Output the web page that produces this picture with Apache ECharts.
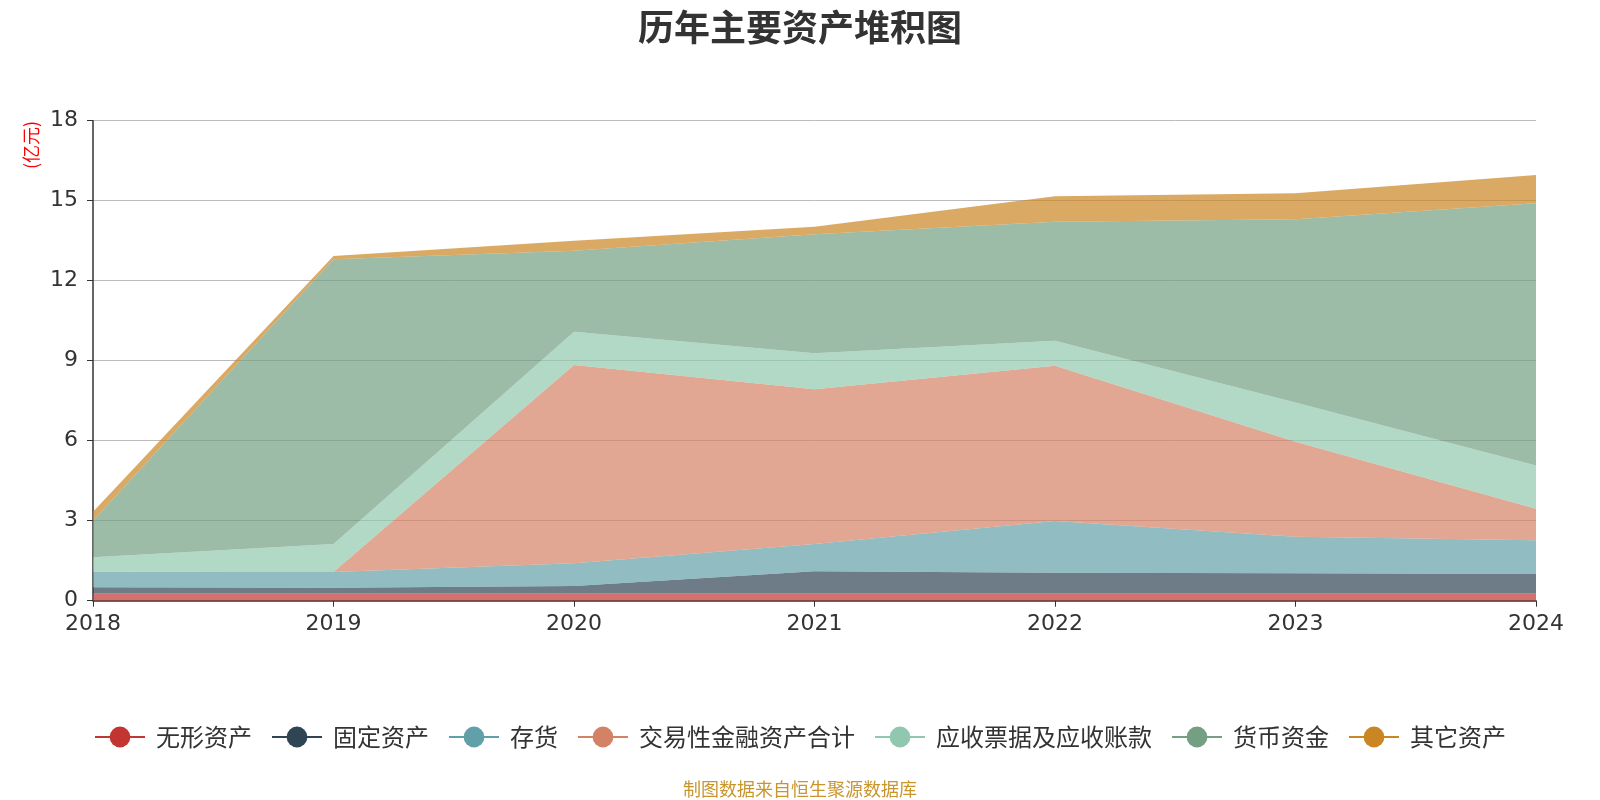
<!DOCTYPE html>
<html>
<head>
<meta charset="utf-8">
<script src="https://cdn.jsdelivr.net/npm/echarts@6/dist/echarts.min.js"></script>
<style>
html,body{margin:0;padding:0;background:#fff;}
#main{width:1600px;height:800px;}
</style>
</head>
<body>
<div id="main"></div>
<script>
var years = ['2018','2019','2020','2021','2022','2023','2024'];
var seriesNames = ['无形资产','固定资产','存货','交易性金融资产合计','应收票据及应收账款','货币资金','其它资产'];
var intangible = [0.27, 0.27, 0.27, 0.27, 0.27, 0.27, 0.27];
var fixedAssets = [0.23, 0.22, 0.28, 0.83, 0.78, 0.76, 0.73];
var inventory = [0.59, 0.59, 0.85, 1.03, 1.94, 1.37, 1.27];
var tradingFin = [0, 0, 7.44, 5.80, 5.82, 3.56, 1.18];
var receivables = [0.54, 1.05, 1.25, 1.35, 0.94, 1.47, 1.62];
var cash = [1.37, 10.67, 3.03, 4.46, 4.46, 6.87, 9.83];
var others = [0.34, 0.13, 0.38, 0.28, 0.96, 0.98, 1.06];
var yTicks = [0, 3, 6, 9, 12, 15, 18];

var colors = ['#c23531','#2f4554','#61a0a8','#d48265','#91c7ae','#749f83','#ca8622'];
var dataList = [intangible, fixedAssets, inventory, tradingFin, receivables, cash, others];

var chart = echarts.init(document.getElementById('main'));
var series = seriesNames.map(function(n, i){
  return {
    name: n,
    type: 'line',
    stack: 'total',
    data: dataList[i],
    symbol: 'circle',
    symbolSize: 20,
    showSymbol: false,
    lineStyle: {width: 0},
    areaStyle: {opacity: 0.7},
    itemStyle: {color: colors[i]}
  };
});

chart.setOption({
  animation: false,
  color: colors,
  title: {
    text: '历年主要资产堆积图',
    left: 'center',
    top: 4,
    textStyle: {fontSize: 36, fontWeight: 'bold', color: '#333', fontFamily: 'Noto Sans CJK SC'}
  },
  grid: {left: 93, right: 64, top: 120.7, bottom: 199.3, containLabel: false},
  legend: {
    bottom: 46,
    left: 'center',
    itemWidth: 50,
    itemHeight: 26,
    itemGap: 19,
    lineStyle: {width: 2},
    textStyle: {fontSize: 24, color: '#333', fontFamily: 'Noto Sans CJK SC', padding: [0, 0, 0, 6]},
    data: seriesNames
  },
  graphic: [
    {
      type: 'text',
      x: 31, y: 145,
      rotation: Math.PI / 2,
      style: {text: '(亿元)', fill: '#ff0000', font: '18px "Noto Sans CJK SC"', textAlign: 'center', textVerticalAlign: 'middle'}
    },
    {
      type: 'text',
      left: 'center',
      bottom: 2,
      style: {text: '制图数据来自恒生聚源数据库', fill: '#c8962d', font: '18px "Noto Sans CJK SC"'}
    }
  ],
  xAxis: {
    type: 'category',
    boundaryGap: false,
    data: years,
    axisLine: {lineStyle: {color: '#333', width: 1.5}},
    axisTick: {show: true, length: 6, lineStyle: {color: '#333'}},
    axisLabel: {fontSize: 22, color: '#333', margin: 13, fontFamily: 'DejaVu Sans'}
  },
  yAxis: {
    type: 'value',
    min: yTicks[0],
    max: yTicks[yTicks.length - 1],
    interval: 3,
    axisLine: {show: true, lineStyle: {color: '#333', width: 1.5}},
    axisTick: {show: true, length: 6, lineStyle: {color: '#333'}},
    axisLabel: {fontSize: 22, color: '#333', margin: 15, fontFamily: 'DejaVu Sans'},
    splitLine: {lineStyle: {color: '#bbb', width: 1}}
  },
  series: series
});
</script>
</body>
</html>
